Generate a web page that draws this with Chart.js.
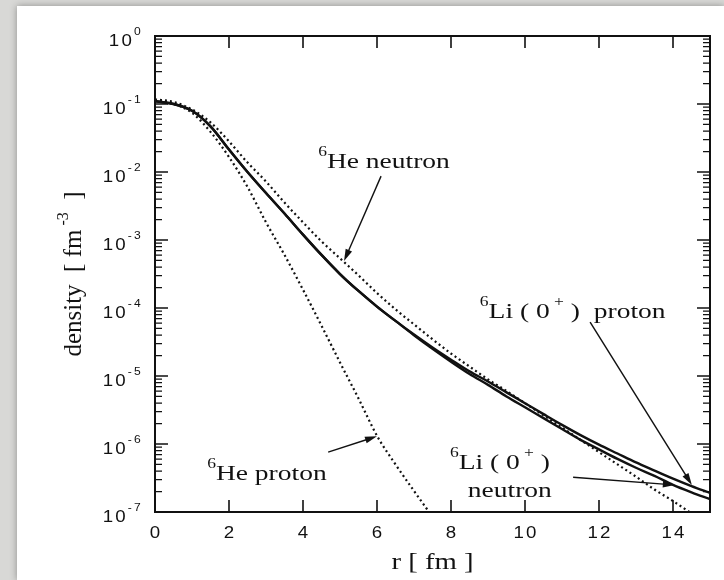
<!DOCTYPE html>
<html>
<head>
<meta charset="utf-8">
<script src="https://cdn.jsdelivr.net/npm/chart.js@4"></script>
<style>
    html, body { margin: 0; padding: 0; background: #d8d8d6; }
    body { width: 724px; height: 580px; position: relative; overflow: hidden; }
    .panel {
        position: absolute; left: 17px; top: 6px; width: 707px; height: 574px;
        background: #fff; box-shadow: 0 0 7px rgba(0, 0, 0, 0.35);
    }
</style>
</head>
<body>
<div class="panel"><canvas id="densityChart" width="707" height="574"></canvas></div>
<script>
// r [fm], step 0.5
const radii = [0, 0.5, 1, 1.5, 2, 2.5, 3, 3.5, 4, 4.5, 5, 5.5, 6, 6.5, 7, 7.5,
    8, 8.5, 9, 9.5, 10, 10.5, 11, 11.5, 12, 12.5, 13, 13.5, 14, 14.5, 15];

// densities [fm^-3]
const liProton = [1.10e-1, 1.00e-1, 7.94e-2, 4.68e-2, 2.14e-2, 1.00e-2, 4.90e-3, 2.45e-3,
    1.20e-3, 6.03e-4, 3.16e-4, 1.78e-4, 1.05e-4, 6.46e-5, 4.07e-5, 2.63e-5,
    1.74e-5, 1.17e-5, 8.32e-6, 5.75e-6, 3.98e-6, 2.75e-6, 1.91e-6, 1.35e-6,
    9.77e-7, 7.24e-7, 5.37e-7, 4.07e-7, 3.09e-7, 2.40e-7, 1.91e-7];
const liNeutron = [1.10e-1, 1.00e-1, 7.94e-2, 4.68e-2, 2.14e-2, 1.00e-2, 4.90e-3, 2.45e-3,
    1.20e-3, 6.03e-4, 3.16e-4, 1.78e-4, 1.05e-4, 6.46e-5, 3.98e-5, 2.51e-5,
    1.62e-5, 1.07e-5, 7.41e-6, 5.01e-6, 3.47e-6, 2.40e-6, 1.66e-6, 1.15e-6,
    8.32e-7, 6.03e-7, 4.47e-7, 3.39e-7, 2.51e-7, 1.95e-7, 1.55e-7];
const heNeutron = [1.17e-1, 1.07e-1, 8.32e-2, 5.37e-2, 2.82e-2, 1.38e-2, 7.24e-3, 3.55e-3,
    1.82e-3, 9.55e-4, 5.37e-4, 3.02e-4, 1.66e-4, 9.55e-5, 5.75e-5, 3.47e-5,
    2.14e-5, 1.38e-5, 8.91e-6, 6.03e-6, 3.98e-6, 2.63e-6, 1.74e-6, 1.15e-6,
    7.59e-7, 5.01e-7, 3.31e-7, 2.14e-7, 1.45e-7, 9.55e-8, 6.31e-8];
// only up to r = 7.5, it leaves the frame after that
const heProton = [1.12e-1, 1.00e-1, 7.41e-2, 3.89e-2, 1.66e-2, 6.03e-3, 1.82e-3, 6.03e-4,
    1.86e-4, 5.50e-5, 1.58e-5, 4.68e-6, 1.32e-6, 5.01e-7, 2.04e-7, 8.51e-8];

const xTickValues = [0, 2, 4, 6, 8, 10, 12, 14];
const xTickLabels = ['0', '2', '4', '6', '8', '10', '12', '14'];
const yTickValues = [1, 1e-1, 1e-2, 1e-3, 1e-4, 1e-5, 1e-6, 1e-7];
const yTickExponents = ['0', '-1', '-2', '-3', '-4', '-5', '-6', '-7'];

const SERIF = '"Liberation Serif", "Times New Roman", serif';
const SANS = '"Liberation Sans", Arial, sans-serif';
const SX = 1.25; // the scan is stretched sideways

function toPoints(values) {
    return values.map((v, i) => ({ x: radii[i], y: v }));
}

// text made of pieces, some raised as superscripts
function drawRich(ctx, parts, x, y, o) {
    const sx = o.sx || 1;
    const widths = parts.map(p => {
        ctx.font = (p[1] ? o.sup : o.size) + 'px ' + o.family;
        return ctx.measureText(p[0]).width * sx;
    });
    const total = widths.reduce((a, b) => a + b, 0);
    let cx = x;
    if (o.align === 'center') cx = x - total / 2;
    if (o.align === 'right') cx = x - total;
    parts.forEach((p, i) => {
        ctx.font = (p[1] ? o.sup : o.size) + 'px ' + o.family;
        ctx.save();
        ctx.translate(cx, p[1] ? y - o.raise : y);
        ctx.scale(sx, 1);
        ctx.textAlign = 'left';
        ctx.textBaseline = 'alphabetic';
        ctx.fillText(p[0], 0, 0);
        ctx.restore();
        cx += widths[i];
    });
}

function drawArrow(ctx, x1, y1, x2, y2) {
    const a = Math.atan2(y2 - y1, x2 - x1);
    ctx.save();
    ctx.lineWidth = 1.4;
    ctx.beginPath();
    ctx.moveTo(x1, y1);
    ctx.lineTo(x2 - 8 * Math.cos(a), y2 - 8 * Math.sin(a));
    ctx.stroke();
    ctx.beginPath();
    ctx.moveTo(x2, y2);
    ctx.lineTo(x2 - 12 * Math.cos(a) + 3.5 * Math.sin(a), y2 - 12 * Math.sin(a) - 3.5 * Math.cos(a));
    ctx.lineTo(x2 - 12 * Math.cos(a) - 3.5 * Math.sin(a), y2 - 12 * Math.sin(a) + 3.5 * Math.cos(a));
    ctx.closePath();
    ctx.fill();
    ctx.restore();
}

const annotSup = { size: 22, sup: 14, raise: 12, family: SERIF, sx: SX, align: 'left' };
const tickFont = { size: 17, sup: 11, raise: 11, family: SANS, sx: 1.1 };

const framePlugin = {
    id: 'frame',
    afterDraw(chart) {
        const ctx = chart.ctx;
        const { left, right, top, bottom } = chart.chartArea;
        const xs = chart.scales.x, ys = chart.scales.y;
        const px = r => xs.getPixelForValue(r);
        const py = v => ys.getPixelForValue(v);

        ctx.save();
        ctx.strokeStyle = '#111';
        ctx.fillStyle = '#111';
        ctx.lineWidth = 2;
        ctx.strokeRect(left, top, right - left, bottom - top);

        // x ticks, inward top and bottom
        ctx.lineWidth = 1.6;
        xTickValues.forEach((r, i) => {
            const x = px(r);
            ctx.beginPath();
            ctx.moveTo(x, bottom); ctx.lineTo(x, bottom - 12);
            ctx.moveTo(x, top); ctx.lineTo(x, top + 12);
            ctx.stroke();
            ctx.letterSpacing = '2px';
            drawRich(ctx, [[xTickLabels[i], 0]], x + 1, bottom + 26,
                Object.assign({}, tickFont, { align: 'center' }));
            ctx.letterSpacing = '0px';
        });

        // y ticks, log decades with minor ticks
        yTickValues.forEach((v, i) => {
            const y = py(v);
            ctx.lineWidth = 1.6;
            ctx.beginPath();
            ctx.moveTo(left, y); ctx.lineTo(left + 13, y);
            ctx.moveTo(right, y); ctx.lineTo(right - 13, y);
            ctx.stroke();
            if (i > 0) {
                ctx.lineWidth = 1.3;
                for (let m = 2; m <= 9; m++) {
                    const ym = py(v * m);
                    ctx.beginPath();
                    ctx.moveTo(left, ym); ctx.lineTo(left + 7, ym);
                    ctx.moveTo(right, ym); ctx.lineTo(right - 7, ym);
                    ctx.stroke();
                }
            }
            ctx.letterSpacing = '2px';
            drawRich(ctx, [['10', 0], [yTickExponents[i], 1]], left - 12, y + 10,
                Object.assign({}, tickFont, { align: 'right' }));
            ctx.letterSpacing = '0px';
        });

        // axis titles
        drawRich(ctx, [['r [ fm ]', 0]], (left + right) / 2, bottom + 57,
            { size: 23, family: SERIF, sx: SX, align: 'center' });
        ctx.save();
        ctx.translate(left - 74, (top + bottom) / 2);
        ctx.rotate(-Math.PI / 2);
        drawRich(ctx, [['density  [ fm', 0], [' -3', 1], ['  ]', 0]], 0, 0,
            { size: 25, sup: 16, raise: 13, family: SERIF, sx: 1, align: 'center' });
        ctx.restore();

        // curve labels and arrows (anchored in data units)
        drawRich(ctx, [['6', 1], ['He neutron', 0]], px(4.41), py(1.15e-2), annotSup);
        drawArrow(ctx, px(6.11), py(8.7e-3), px(5.11), py(4.9e-4));

        drawRich(ctx, [['6', 1], ['Li ( 0', 0], [' +', 1], [' )', 0], ['  proton', 0]],
            px(8.78), py(7.1e-5), annotSup);
        drawArrow(ctx, px(11.76), py(6.2e-5), px(14.51), py(2.5e-7));

        drawRich(ctx, [['6', 1], ['Li ( 0', 0], [' +', 1], [' )', 0]],
            px(7.97), py(4.3e-7), annotSup);
        drawRich(ctx, [['neutron', 0]], px(9.59), py(1.66e-7),
            Object.assign({}, annotSup, { align: 'center' }));
        drawArrow(ctx, px(11.30), py(3.25e-7), px(14.05), py(2.5e-7));

        drawRich(ctx, [['6', 1], ['He proton', 0]], px(1.41), py(2.95e-7), annotSup);
        drawArrow(ctx, px(4.68), py(7.6e-7), px(6.0), py(1.3e-6));
        ctx.restore();
    }
};

const solid = { borderColor: '#111', borderWidth: 2.4, pointRadius: 0, cubicInterpolationMode: 'monotone', fill: false };
const dotted = { borderColor: '#111', borderWidth: 2.2, borderDash: [2, 3], pointRadius: 0, cubicInterpolationMode: 'monotone', fill: false };

new Chart(document.getElementById('densityChart'), {
    type: 'line',
    data: {
        datasets: [
            Object.assign({ label: '6Li (0+) proton', data: toPoints(liProton) }, solid),
            Object.assign({ label: '6Li (0+) neutron', data: toPoints(liNeutron) }, solid),
            Object.assign({ label: '6He neutron', data: toPoints(heNeutron) }, dotted),
            Object.assign({ label: '6He proton', data: toPoints(heProton) }, dotted)
        ]
    },
    options: {
        responsive: false,
        animation: false,
        layout: { padding: { left: 138, top: 30, right: 14, bottom: 68 } },
        scales: {
            x: { type: 'linear', min: 0, max: 15, display: false },
            y: { type: 'logarithmic', min: 1e-7, max: 1, display: false }
        },
        plugins: {
            legend: { display: false },
            tooltip: { enabled: false }
        }
    },
    plugins: [framePlugin]
});
</script>
</body>
</html>
